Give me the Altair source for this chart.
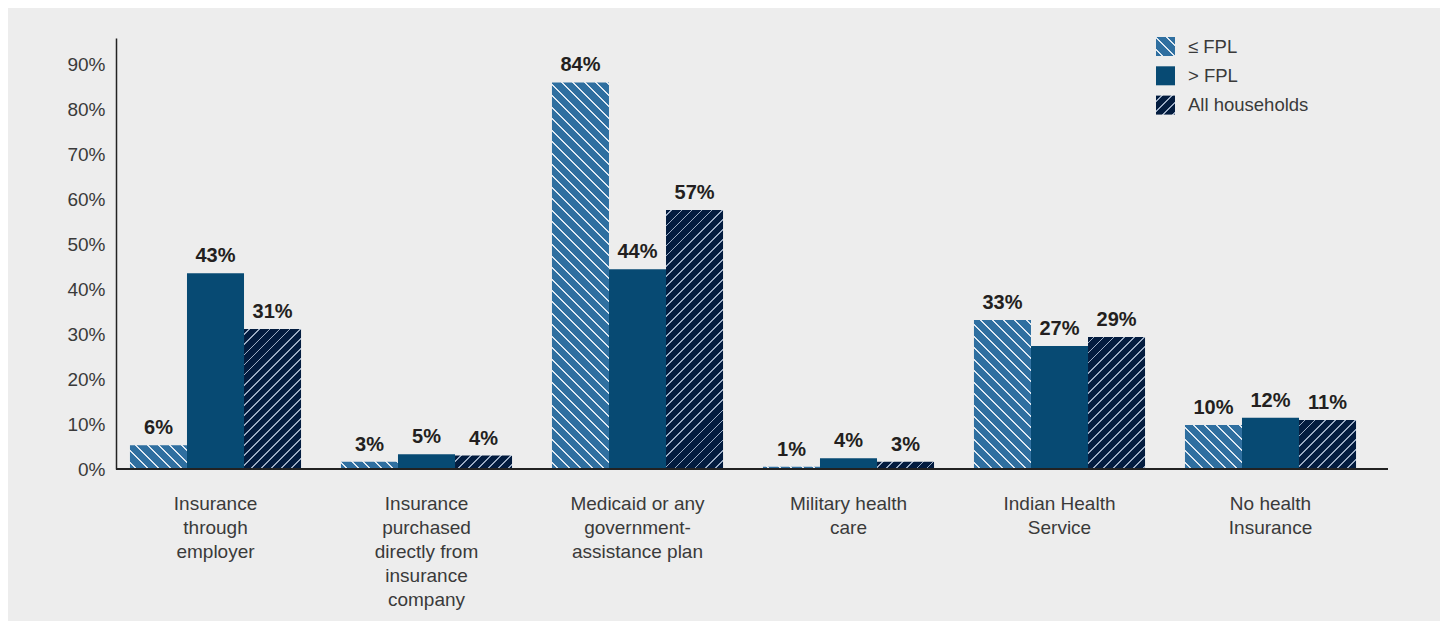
import math
import altair as alt
import pandas as pd

# ---------------- data ----------------
categories = [
    "Insurance\nthrough\nemployer",
    "Insurance\npurchased\ndirectly from\ninsurance\ncompany",
    "Medicaid or any\ngovernment-\nassistance plan",
    "Military health\ncare",
    "Indian Health\nService",
    "No health\nInsurance",
]
series = ["≤ FPL", "> FPL", "All households"]

below_fpl = [5.3, 1.6, 86.1, 0.5, 33.2, 9.8]
above_fpl = [43.6, 3.3, 44.5, 2.4, 27.4, 11.4]
all_households = [31.2, 3.0, 57.7, 1.6, 29.4, 10.9]

below_labels = ["6%", "3%", "84%", "1%", "33%", "10%"]
above_labels = ["43%", "5%", "44%", "4%", "27%", "12%"]
all_labels = ["31%", "4%", "57%", "3%", "29%", "11%"]

y_ticks = [0, 10, 20, 30, 40, 50, 60, 70, 80, 90]

# ---------------- styles ----------------
FONT = "Liberation Sans"
BG = "#ededed"
C_BELOW = "#2f6fa0"
C_BELOW_LINE = "#dde8f2"
C_ABOVE = "#074a73"
C_ALL = "#031c3f"
C_ALL_LINE = "#9aabc3"

PLOT_W = 1272
PLOT_H = 431
Y_MAX = 96
BAR_W = 211 / 3.7

rows = []
for i, cat in enumerate(categories):
    for s, vals, labs in ((series[0], below_fpl, below_labels),
                          (series[1], above_fpl, above_labels),
                          (series[2], all_households, all_labels)):
        rows.append({"idx": i, "cat": cat, "series": s, "value": vals[i], "label": labs[i]})
df = pd.DataFrame(rows)


def hatch(w, h, forward, base, line, period, lw):
    r = h / w
    k = (1 + r) / (1 + r * r)
    if forward:  # "/" stripes
        x1, y1, x2, y2 = 0, 0, k, k * r
    else:        # "\" stripes
        x1, y1, x2, y2 = 0, 1, k, 1 - k * r
    span = (w + h) / math.sqrt(2)
    stops = [(0.0, base)]
    pos = period / 2
    while pos < span:
        a = min(pos / span, 1.0)
        b = min((pos + lw) / span, 1.0)
        stops += [(a, base), (a, line), (b, line), (b, base)]
        pos += period
    stops.append((1.0, base))
    return x1, y1, x2, y2, stops


def gradient_dict(w, h, forward, base, line, period, lw):
    x1, y1, x2, y2, stops = hatch(w, h, forward, base, line, period, lw)
    return {"gradient": "linear", "x1": round(x1, 5), "y1": round(y1, 5),
            "x2": round(x2, 5), "y2": round(y2, 5),
            "stops": [{"offset": round(o, 5), "color": c} for o, c in stops]}


def gradient_expr(w, h, forward, base, line, period, lw):
    x1, y1, x2, y2, stops = hatch(w, h, forward, base, line, period, lw)
    st = ", ".join("{offset: %.5f, color: '%s'}" % (o, c) for o, c in stops)
    return "{gradient: 'linear', x1: %.5f, y1: %.5f, x2: %.5f, y2: %.5f, stops: [%s]}" % (
        x1, y1, x2, y2, st)


BELOW_STYLE = dict(forward=False, base=C_BELOW, line=C_BELOW_LINE, period=8.1, lw=1.4)
ALL_STYLE = dict(forward=True, base=C_ALL, line=C_ALL_LINE, period=7.1, lw=1.3)

x_enc = alt.X(
    "cat:N",
    scale=alt.Scale(domain=categories, range=[-6, 1260], paddingInner=0, paddingOuter=0),
    axis=alt.Axis(title=None, labelAngle=0, ticks=False, domain=False,
                  labelFont=FONT, labelFontSize=19, labelColor="#3a3a3a", labelLineHeight=24,
                  labelPadding=25, labelLimit=400, labelExpr="split(datum.label, '\\n')"),
)
xo_enc = alt.XOffset("series:N", scale=alt.Scale(domain=series, paddingInner=0, paddingOuter=0.35))
y_enc = alt.Y(
    "value:Q",
    scale=alt.Scale(domain=[0, Y_MAX], nice=False),
    axis=alt.Axis(title=None, values=y_ticks, labelExpr="datum.value + '%'", ticks=False,
                  grid=False, domainColor="#222222", domainWidth=1.5, labelFont=FONT,
                  labelFontSize=19, labelColor="#3a3a3a", labelPadding=11, zindex=1),
)

legend_range = [
    {"expr": gradient_expr(19, 19, **BELOW_STYLE)},
    C_ABOVE,
    {"expr": gradient_expr(19, 19, **ALL_STYLE)},
]

base = alt.Chart(df)

solid = base.transform_filter(alt.datum.series == series[1]).mark_bar(strokeWidth=0).encode(
    x=x_enc, xOffset=xo_enc, y=y_enc,
    color=alt.Color("series:N", scale=alt.Scale(domain=series, range=legend_range),
                    legend=alt.Legend(title=None, orient="none", legendX=1040, legendY=-1,
                                      symbolType="square", symbolSize=361, symbolStrokeWidth=0,
                                      labelFont=FONT, labelFontSize=18.5, labelColor="#3a3a3a",
                                      labelOffset=13, rowPadding=10.3, padding=0)),
)

layers = [solid]
for i in range(len(categories)):
    for s, vals, style in ((series[0], below_fpl, BELOW_STYLE), (series[2], all_households, ALL_STYLE)):
        h = vals[i] * PLOT_H / Y_MAX
        g = gradient_dict(BAR_W, max(h, 0.5), **style)
        layer = base.transform_filter(
            (alt.datum.idx == i) & (alt.datum.series == s)
        ).mark_bar(fill=g, strokeWidth=0).encode(x=x_enc, xOffset=xo_enc, y=y_enc)
        layers.append(layer)

# baseline along the full plot width (x axis line)
baseline = alt.Chart(pd.DataFrame({"zero": [0]})).mark_rule(color="#222222", strokeWidth=2).encode(
    y=alt.Y("zero:Q"), x=alt.value(0), x2=alt.value(PLOT_W))
layers.append(baseline)

text = base.mark_text(font=FONT, fontSize=20, fontWeight="bold", color="#231f20",
                      dy=-11, baseline="alphabetic").encode(
    x=x_enc, xOffset=xo_enc, y=y_enc, text="label:N")
layers.append(text)

chart = alt.layer(*layers).properties(
    width=PLOT_W, height=PLOT_H,
    autosize=alt.AutoSizeParams(type="none"),
    padding={"left": 108, "top": 30, "right": 52, "bottom": 152},
    background=BG,
).configure_view(strokeWidth=0)

chart.save("out.html", embed_options={"renderer": "svg", "actions": False})
